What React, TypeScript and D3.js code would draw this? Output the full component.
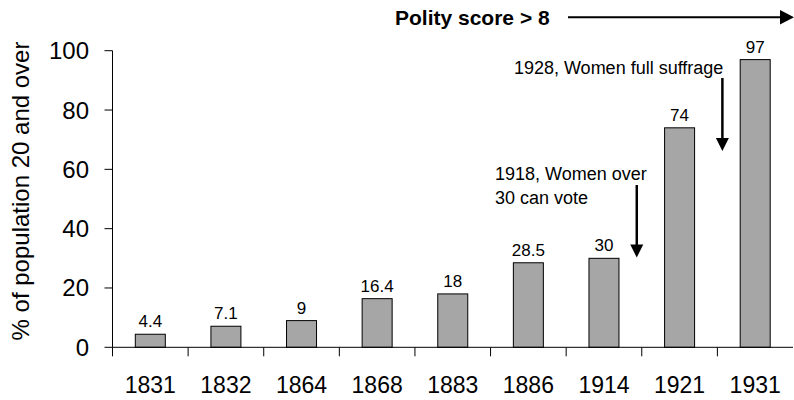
import React, { useEffect, useRef } from 'react'
import * as d3 from 'd3'

const years = ['1831', '1832', '1864', '1868', '1883', '1886', '1914', '1921', '1931']
const shares = [4.4, 7.1, 9, 16.4, 18, 28.5, 30, 74, 97]
const labels = ['4.4', '7.1', '9', '16.4', '18', '28.5', '30', '74', '97']
const yTicks = [0, 20, 40, 60, 80, 100]

const FONT = '"Liberation Sans", Arial, Helvetica, sans-serif'

const App = () => {
    const ref = useRef<SVGSVGElement>(null)

    useEffect(() => {
        document.body.style.margin = '0'
        const svg = d3.select(ref.current)
        svg.selectAll('*').remove()

        const width = 794, height = 400
        const left = 112.5, right = 793, top = 50.7, bottom = 347.3

        var x = d3.scaleBand().domain(years).range([left, right]).paddingInner(0).paddingOuter(0)
        var y = d3.scaleLinear().domain([0, 100]).range([bottom, top])
        const barW = 30

        const data = years.map((yr, i) => ({ year: yr, value: shares[i], label: labels[i] }))

        // bars
        svg.append('g').selectAll('rect')
            .data(data)
            .enter().append('rect')
            .attr('x', d => x(d.year)! + x.bandwidth() / 2 - barW / 2)
            .attr('width', barW)
            .attr('y', d => y(d.value))
            .attr('height', d => bottom - y(d.value))
            .attr('fill', '#a6a6a6')
            .attr('stroke', '#000')
            .attr('stroke-width', 1)

        // value labels
        svg.append('g').selectAll('text')
            .data(data)
            .enter().append('text')
            .attr('x', d => x(d.year)! + x.bandwidth() / 2)
            .attr('y', d => y(d.value) - 7)
            .attr('text-anchor', 'middle')
            .style('font-family', FONT)
            .style('font-size', '17px')
            .text(d => d.label)

        // y axis
        const ya = svg.append('g')
        ya.append('line').attr('x1', left).attr('x2', left).attr('y1', top).attr('y2', bottom).attr('stroke', '#000')
        ya.selectAll('line.tk').data(yTicks).enter().append('line')
            .attr('class', 'tk')
            .attr('x1', left - 8).attr('x2', left)
            .attr('y1', d => y(d)).attr('y2', d => y(d))
            .attr('stroke', '#000')
        ya.selectAll('text').data(yTicks).enter().append('text')
            .attr('x', 89)
            .attr('y', d => y(d) + 8.5)
            .attr('text-anchor', 'end')
            .style('font-family', FONT)
            .style('font-size', '24px')
            .text(d => d)

        // x axis
        const xa = svg.append('g')
        xa.append('line').attr('x1', left).attr('x2', right).attr('y1', bottom).attr('y2', bottom).attr('stroke', '#000')
        xa.selectAll('line.tk').data(years).enter().append('line')
            .attr('class', 'tk')
            .attr('x1', d => x(d)!).attr('x2', d => x(d)!)
            .attr('y1', bottom).attr('y2', bottom + 9)
            .attr('stroke', '#000')
        xa.selectAll('text').data(years).enter().append('text')
            .attr('x', d => x(d)! + x.bandwidth() / 2)
            .attr('y', 393)
            .attr('text-anchor', 'middle')
            .style('font-family', FONT)
            .style('font-size', '23px')
            .text(d => d)

        // y label
        svg.append('text')
            .attr('transform', 'translate(29,' + (y(50) - 8) + ') rotate(-90)')
            .attr('text-anchor', 'middle')
            .style('font-family', FONT)
            .style('font-size', '24px')
            .text('% of population 20 and over')

        // polity arrow
        svg.append('text')
            .attr('x', 395).attr('y', 25)
            .style('font-family', FONT)
            .style('font-size', '21px')
            .style('font-weight', 'bold')
            .text('Polity score > 8')
        svg.append('line').attr('x1', 568).attr('x2', 781).attr('y1', 17.3).attr('y2', 17.3)
            .attr('stroke', '#000').attr('stroke-width', 2)
        svg.append('path').attr('d', 'M780,10L794,17.3L780,24.6Z').attr('fill', '#000')

        // annotations with down arrows
        const downArrow = (ax: number, y1: number, y2: number) => {
            svg.append('line').attr('x1', ax).attr('x2', ax).attr('y1', y1).attr('y2', y2 - 11)
                .attr('stroke', '#000').attr('stroke-width', 2.5)
            svg.append('path')
                .attr('d', `M${ax - 6.5},${y2 - 13}L${ax + 6.5},${y2 - 13}L${ax},${y2}Z`)
                .attr('fill', '#000')
        }

        const a1 = x('1914')! + x.bandwidth() - 5
        downArrow(a1, 185, 257.5)
        const t1 = svg.append('text').style('font-family', FONT).style('font-size', '18px')
        t1.append('tspan').attr('x', 495).attr('y', 179.5).text('1918, Women over')
        t1.append('tspan').attr('x', 495).attr('y', 203.5).text('30 can vote')

        const a2 = x('1921')! + x.bandwidth() + 5
        downArrow(a2, 78, 151)
        svg.append('text')
            .attr('x', a2 + 1).attr('y', 74)
            .attr('text-anchor', 'end')
            .style('font-family', FONT)
            .style('font-size', '18px')
            .text('1928, Women full suffrage')

        svg.attr('width', width).attr('height', height)
    }, [])

    return <svg ref={ref} width={794} height={400} style={{ display: 'block' }} />
}

export default App
